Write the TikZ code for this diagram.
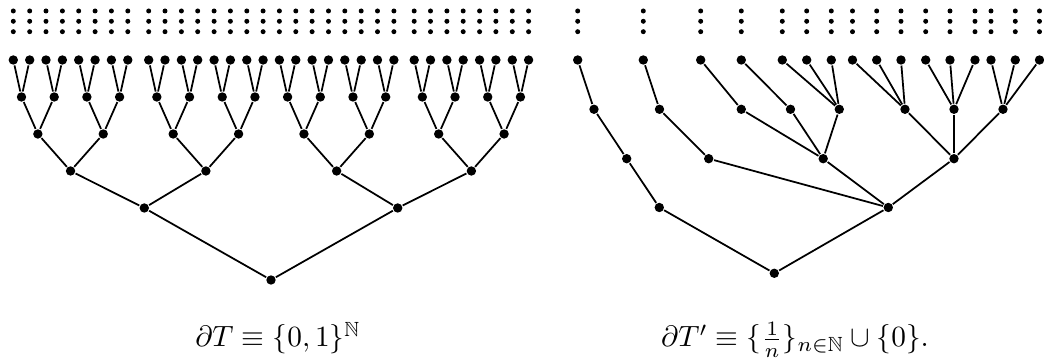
\documentclass[tikz,border=0pt]{standalone}
\usepackage{amssymb}
\begin{document}
\begin{tikzpicture}
  [x=0.012cm,y=-0.012cm,line width=0.6pt,
   dot/.style={circle,fill=black,inner sep=0pt,minimum size=3.2pt},
   tiny/.style={circle,fill=black,inner sep=0pt,minimum size=1.7pt}]
  \useasboundingbox (0,0) rectangle (1044,362);

  % left tree, leaves with dots above
  \foreach \x [count=\i] in {13.3,29.7,46,62.4,78.7,95.1,111.4,127.8,
      148.7,165,181.4,197.7,214.1,230.4,246.8,263.1,
      279.4,295.8,312.1,328.5,344.8,361.2,377.5,393.9,
      414.2,430.5,446.9,463.2,479.6,495.9,512.3,528.6}
  {
    \node[dot] (a\i) at (\x,60) {};
    \foreach \y [count=\j] in {11,21.3,31.7}
      \node[tiny] (a\i-\j) at (\x,\y) {};
  }

  % inner levels, each node joined to its two children
  \foreach \lv/\up/\y/\xs in {
      b/a/97/{21.5,54.2,86.9,119.6,156.85,189.55,222.25,254.95,
              287.6,320.3,353,385.7,422.35,455.05,487.75,520.45},
      c/b/134/{37.85,103.25,173.2,238.6,303.95,369.35,438.7,504.1},
      d/c/171/{70.55,205.9,336.65,471.4},
      e/d/208/{144.3,397.7}}
  {
    \foreach \x [count=\i] in \xs
    {
      \node[dot] (\lv\i) at (\x,\y) {};
      \pgfmathtruncatemacro\p{2*\i-1}
      \pgfmathtruncatemacro\q{2*\i}
      \draw (\lv\i) -- (\up\p) (\lv\i) -- (\up\q);
    }
  }
  \node[dot] (ra) at (271,280) {};
  \draw (ra) -- (e1) (ra) -- (e2);

  % right tree
  \foreach \x [count=\i] in {577.7,643.3,700.7,741.3,782.3,806.7,831.3,852.5,
      876.7,901,925.7,950,975,991,1015.3,1039.5}
  {
    \node[dot] (u\i) at (\x,60) {};
    \foreach \y [count=\j] in {11,21.3,31.7}
      \node[tiny] (u\i-\j) at (\x,\y) {};
  }
  \node[dot] (v1) at (594,109.3) {};
  \node[dot] (v2) at (659.5,109.3) {};
  \node[dot] (v3) at (741.3,109.3) {};
  \node[dot] (v4) at (790.5,109.3) {};
  \node[dot] (v5) at (839.3,109.3) {};
  \node[dot] (v6) at (905,109.3) {};
  \node[dot] (v7) at (954,109.3) {};
  \node[dot] (v8) at (1003,109.3) {};
  \node[dot] (w1) at (626.7,158.7) {};
  \node[dot] (w2) at (708.7,158.7) {};
  \node[dot] (w3) at (823.2,158.7) {};
  \node[dot] (w4) at (954,158.7) {};
  \node[dot] (t1) at (659.3,207.5) {};
  \node[dot] (t2) at (888.3,207.5) {};
  \node[dot] (rb) at (774.3,273.3) {};

  \foreach \from/\to in {u1/v1,u2/v2,u3/v3,u4/v4,u5/v5,u6/v5,u7/v5,u8/v6,u9/v6,u10/v6,
      u11/v7,u12/v7,u13/v7,u14/v8,u15/v8,u16/v8,v1/w1,v2/w2,v3/w3,v4/w3,v5/w3,
      v6/w4,v7/w4,v8/w4,w1/t1,w2/t2,w3/t2,w4/t2,t1/rb,t2/rb}
    \draw (\from) -- (\to);

  \node[anchor=base] (capa) at (278,347) {$\partial T\equiv\{0,1\}^{\mathbb N}$};
  \node[anchor=base] (capb) at (795,347) {$\partial T'\equiv\{\frac1n\}_{n\in\mathbb N}\cup\{0\}$.};
\end{tikzpicture}
\end{document}
